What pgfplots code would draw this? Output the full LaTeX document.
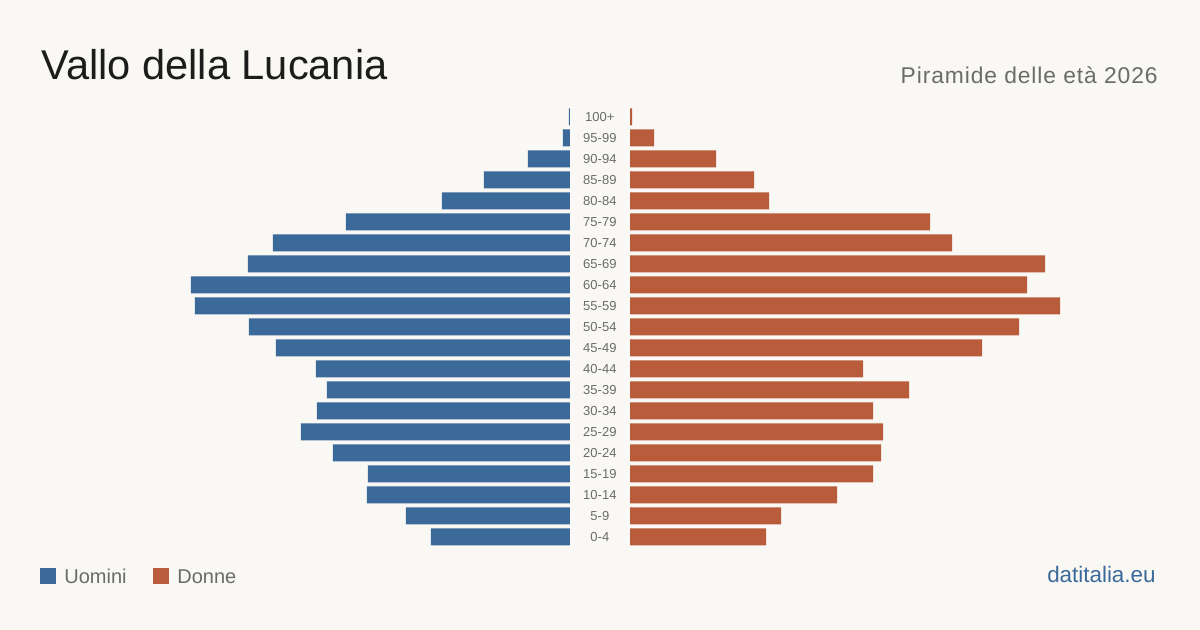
\documentclass[border=0pt]{standalone}
\usepackage{pgfplots}
\usepackage{pgfplotstable}
\pgfplotsset{compat=1.18}
\usepackage{fontspec}
\setmainfont{Liberation Sans}

\definecolor{sfondo}{HTML}{F9F8F4}
\definecolor{uomini}{HTML}{3B6A9A}
\definecolor{donne}{HTML}{B95C3C}
\definecolor{titolo}{HTML}{1C1C1C}
\definecolor{grigio}{HTML}{6B6B6B}

% Popolazione per classe di età (0 = 0-4 ... 20 = 100+)
\pgfplotstableread{
idx uomini donne
0   139 136
1   164 151
2   203 207
3   202 243
4   237 251
5   269 253
6   253 243
7   243 279
8   254 233
9   294 352
10  321 389
11  375 430
12  379 397
13  322 415
14  297 322
15  224 300
16  128 139
17  86  124
18  42  86
19  7   24
20  1   2
}\piramide

\pgfplotsset{
  piramide/.style={
    scale only axis, width=285pt, height=220.5pt,
    xmin=0, xmax=570, ymin=-0.5, ymax=20.5,
    xbar, bar width=0.81, bar shift=0pt,
    axis line style={draw=none}, tick style={draw=none},
    xtick=\empty, clip=false,
  }
}

\begin{document}
\begin{tikzpicture}
\fill[sfondo] (0,0) rectangle (600pt,315pt);
\path[use as bounding box] (0,0) rectangle (600pt,315pt);

% Uomini (a sinistra)
\begin{axis}[piramide, at={(285pt,261.75pt)}, anchor=north east,
  x dir=reverse, ytick=\empty]
  \addplot[fill=uomini, draw=none] table[x=uomini, y=idx]{\piramide};
\end{axis}

% Donne (a destra), con le classi di età al centro
\begin{axis}[piramide, at={(315pt,261.75pt)}, anchor=north west,
  ytick={0,...,20},
  yticklabels={0-4,5-9,10-14,15-19,20-24,25-29,30-34,35-39,40-44,45-49,
    50-54,55-59,60-64,65-69,70-74,75-79,80-84,85-89,90-94,95-99,100+},
  yticklabel style={anchor=center, xshift=-10.8pt, inner sep=0pt,
    font=\fontsize{6.5}{7}\selectfont, text=grigio}]
  \addplot[fill=donne, draw=none] table[x=donne, y=idx]{\piramide};
\end{axis}

% Titoli
\node[anchor=base west, inner sep=0pt, text=titolo,
  font=\fontsize{20.8}{24}\selectfont] at (20.5pt,275.3pt) {Vallo della Lucania};
\node[anchor=base east, inner sep=0pt, text=grigio,
  font=\fontsize{11.4}{13}\selectfont\addfontfeature{LetterSpace=4}]
  at (579pt,273.3pt) {Piramide delle età 2026};

% Legenda
\fill[uomini] (20pt,23pt) rectangle (28pt,31pt);
\node[anchor=base west, inner sep=0pt, text=grigio,
  font=\fontsize{10}{12}\selectfont] at (32pt,23.3pt) {Uomini};
\fill[donne] (76.5pt,23pt) rectangle (84.5pt,31pt);
\node[anchor=base west, inner sep=0pt, text=grigio,
  font=\fontsize{10}{12}\selectfont] at (88.5pt,23.3pt) {Donne};

% Fonte
\node[anchor=base east, inner sep=0pt, text=uomini,
  font=\fontsize{11.2}{13}\selectfont] at (578pt,23.5pt) {datitalia.eu};
\end{tikzpicture}
\end{document}
